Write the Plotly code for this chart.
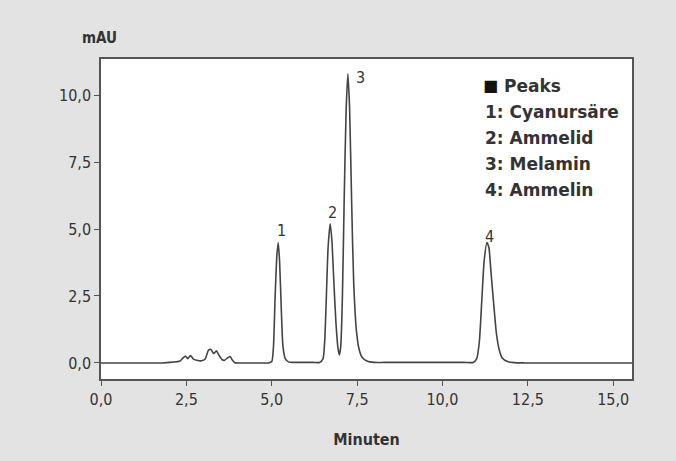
import plotly.graph_objects as go

# Chromatogram trace (minutes, mAU)
time_min = [0.0, 1.5, 1.8, 2.1, 2.3, 2.4, 2.47, 2.54, 2.62, 2.7, 2.8, 2.95, 3.05, 3.15, 3.22, 3.3,
            3.38, 3.45, 3.55, 3.62, 3.72, 3.78, 3.85, 3.92, 4.0, 4.2, 4.7, 4.9, 5.0, 5.05, 5.1, 5.15,
            5.19, 5.23, 5.28, 5.33, 5.4, 5.5, 5.7, 6.2, 6.4, 6.5, 6.55, 6.6, 6.65, 6.71, 6.76, 6.82,
            6.88, 6.94, 6.98, 7.02, 7.07, 7.12, 7.18, 7.23, 7.28, 7.34, 7.4, 7.48, 7.56,
            7.65, 7.8, 8.0, 8.3, 10.6, 10.9, 11.0, 11.08, 11.15, 11.22, 11.3, 11.36, 11.42, 11.5,
            11.58, 11.66, 11.75, 11.9, 12.1, 12.4, 15.55]
signal_mau = [0.0, 0.0, 0.0, 0.03, 0.06, 0.18, 0.26, 0.16, 0.28, 0.15, 0.1, 0.08, 0.15, 0.48, 0.5, 0.35,
              0.45, 0.3, 0.12, 0.1, 0.2, 0.24, 0.1, 0.01, 0.0, 0.0, 0.0, 0.0, 0.05, 0.6, 2.5, 4.0,
              4.5, 3.8, 2.0, 0.6, 0.15, 0.03, 0.02, 0.02, 0.02, 0.15, 0.8, 2.5, 4.3, 5.2, 4.6, 3.0,
              1.5, 0.55, 0.3, 0.6, 2.5, 6.0, 9.5, 10.8, 9.5, 6.0, 3.0, 1.2, 0.5,
              0.2, 0.06, 0.02, 0.02, 0.02, 0.02, 0.15, 0.8, 2.3, 3.8, 4.5, 4.3, 3.4, 2.2,
              1.1, 0.5, 0.18, 0.05, 0.01, 0.0, 0.0]

peak_labels = ["1", "2", "3", "4"]
peak_label_x = [5.3, 6.78, 7.6, 11.37]
peak_label_y = [4.96, 5.6, 10.67, 4.74]

legend_lines = ["1: Cyanursäre", "2: Ammelid", "3: Melamin", "4: Ammelin"]

x_tickvals = [0, 2.5, 5, 7.5, 10, 12.5, 15]
x_ticktext = ["0,0", "2,5", "5,0", "7,5", "10,0", "12,5", "15,0"]
y_tickvals = [0, 2.5, 5, 7.5, 10]
y_ticktext = ["0,0", "2,5", "5,0", "7,5", "10,0"]

FONT = "DejaVu Sans Condensed, Roboto, sans-serif"
LFONT = "DejaVu Sans, sans-serif"
TXT = "#333333"

fig = go.Figure()
fig.add_trace(go.Scatter(
    x=time_min, y=signal_mau, mode="lines",
    line=dict(color="#444444", width=1.6, shape="spline", smoothing=0.6),
    hoverinfo="skip", showlegend=False,
))

for lab, lx, ly in zip(peak_labels, peak_label_x, peak_label_y):
    fig.add_annotation(x=lx, y=ly, text=lab, showarrow=False,
                       font=dict(family=FONT, size=16, color=TXT),
                       xanchor="center", yanchor="middle")

# legend block (paper coordinates)
fig.add_annotation(xref="paper", yref="paper", x=0.716, y=0.916, text="■",
                   showarrow=False, xanchor="left", yanchor="middle",
                   font=dict(family=LFONT, size=16, color="#111111"))
fig.add_annotation(xref="paper", yref="paper", x=0.755, y=0.916, text="<b>Peaks</b>",
                   showarrow=False, xanchor="left", yanchor="middle",
                   font=dict(family=LFONT, size=17, color=TXT))
for i, t in enumerate(legend_lines):
    fig.add_annotation(xref="paper", yref="paper", x=0.719, y=0.834 - i * 0.081,
                       text="<b>" + t + "</b>", showarrow=False,
                       xanchor="left", yanchor="middle",
                       font=dict(family=LFONT, size=17, color=TXT))

fig.add_annotation(xref="paper", yref="paper", x=-0.002, y=1.066, text="<b>mAU</b>",
                   showarrow=False, xanchor="center", yanchor="middle",
                   font=dict(family=FONT, size=15, color=TXT))

fig.update_layout(
    width=676, height=461,
    paper_bgcolor="#e3e3e3", plot_bgcolor="#ffffff",
    margin=dict(l=101, r=44, t=59, b=82),
    font=dict(family=FONT, size=16, color=TXT),
    xaxis=dict(range=[0, 15.55], tickvals=x_tickvals, ticktext=x_ticktext,
               ticks="outside", ticklen=5, tickcolor="#555555",
               showgrid=False, zeroline=False, showline=True, linecolor="#555555",
               linewidth=1.5, mirror=True,
               tickfont=dict(family=FONT, size=16, color=TXT),
               title=dict(text="<b>Minuten</b>", standoff=26,
                          font=dict(family=FONT, size=16, color=TXT))),
    yaxis=dict(range=[-0.6, 11.35], tickvals=y_tickvals, ticktext=y_ticktext,
               ticks="outside", ticklen=5, tickcolor="#555555",
               showgrid=False, zeroline=False, showline=True, linecolor="#555555",
               linewidth=1.5, mirror=True,
               tickfont=dict(family=FONT, size=16, color=TXT)),
)

fig.write_html("out.html",
               config={"displayModeBar": False},
               post_script="document.body.style.margin='0';"
                           "document.body.style.overflow='hidden';"
                           "document.body.style.background='#e3e3e3';")
